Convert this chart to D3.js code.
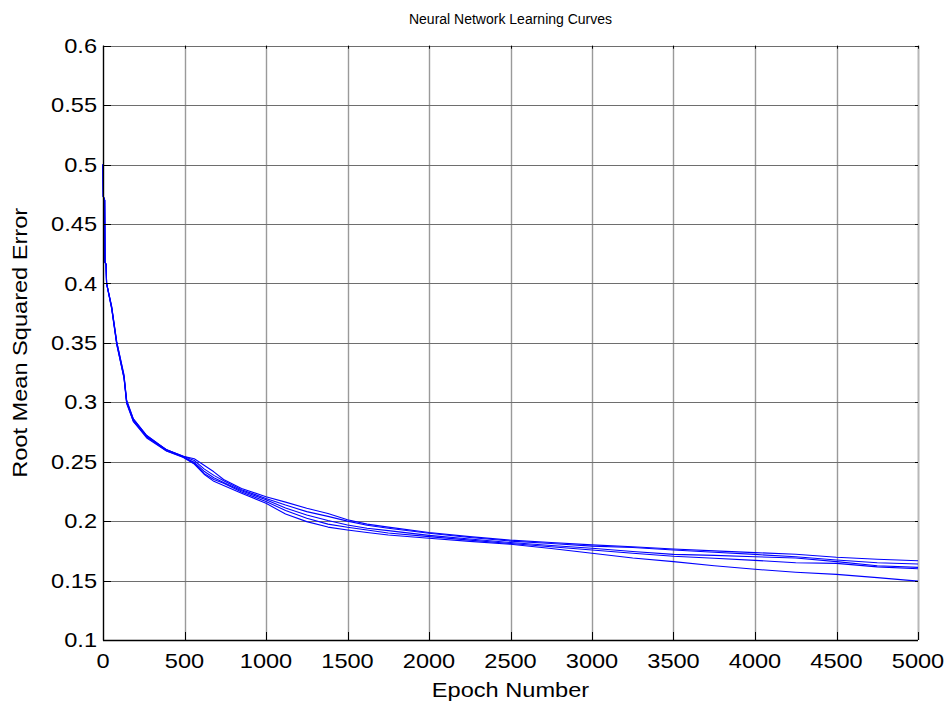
<!DOCTYPE html>
<html>
<head>
<meta charset="utf-8">
<script src="https://cdn.jsdelivr.net/npm/d3@7"></script>
<style>
  html, body { margin: 0; padding: 0; background: #ffffff; }
  svg { display: block; }
  text { font-family: "Liberation Sans", Arial, sans-serif; fill: #000; }
</style>
</head>
<body>
<svg id="chart" width="947" height="702"></svg>
<script>
// Training epochs at which the RMSE of each run was sampled
const epochs = [0, 2, 10, 12, 19, 22, 53, 84, 129, 145, 186, 268, 390, 493,
  560, 620, 680, 740, 850, 1000, 1120, 1250, 1380, 1500, 1620, 1750, 2000,
  2250, 2500, 2750, 3000, 3250, 3500, 3750, 4000, 4250, 4500, 4750, 5000];

// RMSE per run (five training runs)
const run1 = [0.500, 0.473, 0.470, 0.418, 0.416, 0.400, 0.381, 0.351, 0.323, 0.301, 0.286, 0.272, 0.260, 0.2545,
  0.2525, 0.2470, 0.2415, 0.2350, 0.2275, 0.2205, 0.2160, 0.2108, 0.2065, 0.2012, 0.1975, 0.1950, 0.1905,
  0.1870, 0.1840, 0.1820, 0.1800, 0.1785, 0.1765, 0.1750, 0.1735, 0.1722, 0.1696, 0.1680, 0.1667];
const run2 = [0.500, 0.473, 0.470, 0.418, 0.416, 0.400, 0.380, 0.350, 0.321, 0.300, 0.285, 0.271, 0.260, 0.2545,
  0.2510, 0.2440, 0.2385, 0.2340, 0.2265, 0.2190, 0.2135, 0.2080, 0.2040, 0.2000, 0.1965, 0.1940, 0.1898,
  0.1862, 0.1832, 0.1812, 0.1790, 0.1778, 0.1757, 0.1738, 0.1720, 0.1700, 0.1673, 0.1650, 0.1639];
const run3 = [0.500, 0.473, 0.470, 0.418, 0.416, 0.400, 0.379, 0.349, 0.320, 0.299, 0.284, 0.271, 0.259, 0.2540,
  0.2495, 0.2420, 0.2365, 0.2325, 0.2255, 0.2180, 0.2110, 0.2052, 0.2005, 0.1967, 0.1940, 0.1920, 0.1880,
  0.1850, 0.1820, 0.1795, 0.1772, 0.1745, 0.1720, 0.1712, 0.1700, 0.1690, 0.1659, 0.1625, 0.1611];
const run4 = [0.500, 0.473, 0.470, 0.418, 0.416, 0.400, 0.380, 0.351, 0.322, 0.302, 0.286, 0.272, 0.260, 0.2540,
  0.2485, 0.2402, 0.2350, 0.2318, 0.2245, 0.2165, 0.2090, 0.2024, 0.1975, 0.1948, 0.1925, 0.1900, 0.1870,
  0.1840, 0.1812, 0.1785, 0.1757, 0.1730, 0.1705, 0.1688, 0.1670, 0.1650, 0.1645, 0.1615, 0.1600];
const run5 = [0.500, 0.473, 0.470, 0.418, 0.416, 0.400, 0.379, 0.349, 0.321, 0.300, 0.284, 0.270, 0.259, 0.2535,
  0.2480, 0.2395, 0.2335, 0.2300, 0.2235, 0.2150, 0.2060, 0.1996, 0.1950, 0.1926, 0.1905, 0.1883, 0.1856,
  0.1830, 0.1805, 0.1770, 0.1730, 0.1690, 0.1659, 0.1625, 0.1595, 0.1570, 0.1552, 0.1525, 0.1495];
const runs = [run1, run2, run3, run4, run5];

// Axis ticks and labels
const xTicks = [0, 500, 1000, 1500, 2000, 2500, 3000, 3500, 4000, 4500, 5000];
const yTicks = [0.1, 0.15, 0.2, 0.25, 0.3, 0.35, 0.4, 0.45, 0.5, 0.55, 0.6];
const titleText = "Neural Network Learning Curves";
const xLabelText = "Epoch Number";
const yLabelText = "Root Mean Squared Error";

const svg = d3.select("#chart");
const plotLeft = 103, plotRight = 918, plotTop = 45.7, plotBottom = 640;

const x = d3.scaleLinear().domain([0, 5000]).range([plotLeft, plotRight]);
const y = d3.scaleLinear().domain([0.1, 0.6]).range([plotBottom, plotTop]);

const stretch = 1.18;   // wide lettering
const fontSize = 20;

// grid lines
const grid = svg.append("g");
grid.selectAll("line.vg").data(xTicks.slice(1)).join("line")
  .attr("x1", d => Math.round(x(d)) + 0.5).attr("x2", d => Math.round(x(d)) + 0.5)
  .attr("y1", plotTop).attr("y2", plotBottom)
  .attr("stroke", d => d === 5000 ? "#b8b8b8" : "#9a9a9a")
  .attr("stroke-width", d => d === 5000 ? 2 : 1.4);
grid.selectAll("line.hg").data(yTicks.slice(1)).join("line")
  .attr("x1", plotLeft).attr("x2", plotRight)
  .attr("y1", d => Math.round(y(d)) + 0.5).attr("y2", d => Math.round(y(d)) + 0.5)
  .attr("stroke", "#6e6e6e").attr("stroke-width", 1);

// learning curves
const line = d3.line().x((d, i) => x(epochs[i])).y(d => y(d));
svg.append("g").selectAll("path").data(runs).join("path")
  .attr("d", line)
  .attr("fill", "none")
  .attr("stroke", "#0000ff")
  .attr("stroke-width", 1.1)
  .attr("stroke-linejoin", "round");

// inward ticks on all four sides
const tickLen = 8;
const ticks = svg.append("g").attr("stroke", "#000").attr("stroke-width", 1);
xTicks.forEach(t => {
  const px = Math.round(x(t)) + 0.5;
  ticks.append("line").attr("x1", px).attr("x2", px).attr("y1", plotBottom).attr("y2", plotBottom - tickLen);
  ticks.append("line").attr("x1", px).attr("x2", px).attr("y1", plotTop).attr("y2", plotTop + 3);
});
yTicks.forEach(t => {
  const py = Math.round(y(t)) + 0.5;
  ticks.append("line").attr("x1", plotLeft).attr("x2", plotLeft + tickLen).attr("y1", py).attr("y2", py);
  ticks.append("line").attr("x1", plotRight - 3).attr("x2", plotRight).attr("y1", py).attr("y2", py);
});

// axis lines
svg.append("line").attr("x1", plotLeft + 0.5).attr("x2", plotLeft + 0.5).attr("y1", plotTop).attr("y2", plotBottom + 0.5)
  .attr("stroke", "#000").attr("stroke-width", 1.4);
svg.append("line").attr("x1", plotLeft).attr("x2", plotRight).attr("y1", plotBottom + 0.5).attr("y2", plotBottom + 0.5)
  .attr("stroke", "#000").attr("stroke-width", 1.4);

// tick labels
svg.append("g").selectAll("text").data(xTicks).join("text")
  .attr("transform", d => `translate(${x(d)},668) scale(${stretch},1)`)
  .attr("text-anchor", "middle")
  .style("font-size", fontSize + "px")
  .text(d => d);
svg.append("g").selectAll("text").data(yTicks).join("text")
  .attr("transform", d => `translate(97,${y(d) + 7.2}) scale(${stretch},1)`)
  .attr("text-anchor", "end")
  .style("font-size", fontSize + "px")
  .text(d => d);

// axis titles and chart title
svg.append("text")
  .attr("transform", `translate(${(plotLeft + plotRight) / 2},696.5) scale(${stretch},1)`)
  .attr("text-anchor", "middle")
  .style("font-size", fontSize + "px")
  .text(xLabelText);
svg.append("text")
  .attr("transform", `translate(27,${(plotTop + plotBottom) / 2}) rotate(-90) scale(${stretch},1)`)
  .attr("text-anchor", "middle")
  .style("font-size", fontSize + "px")
  .text(yLabelText);
svg.append("text")
  .attr("transform", `translate(${(plotLeft + plotRight) / 2},24)`)
  .attr("text-anchor", "middle")
  .style("font-size", "14px")
  .text(titleText);
</script>
</body>
</html>
